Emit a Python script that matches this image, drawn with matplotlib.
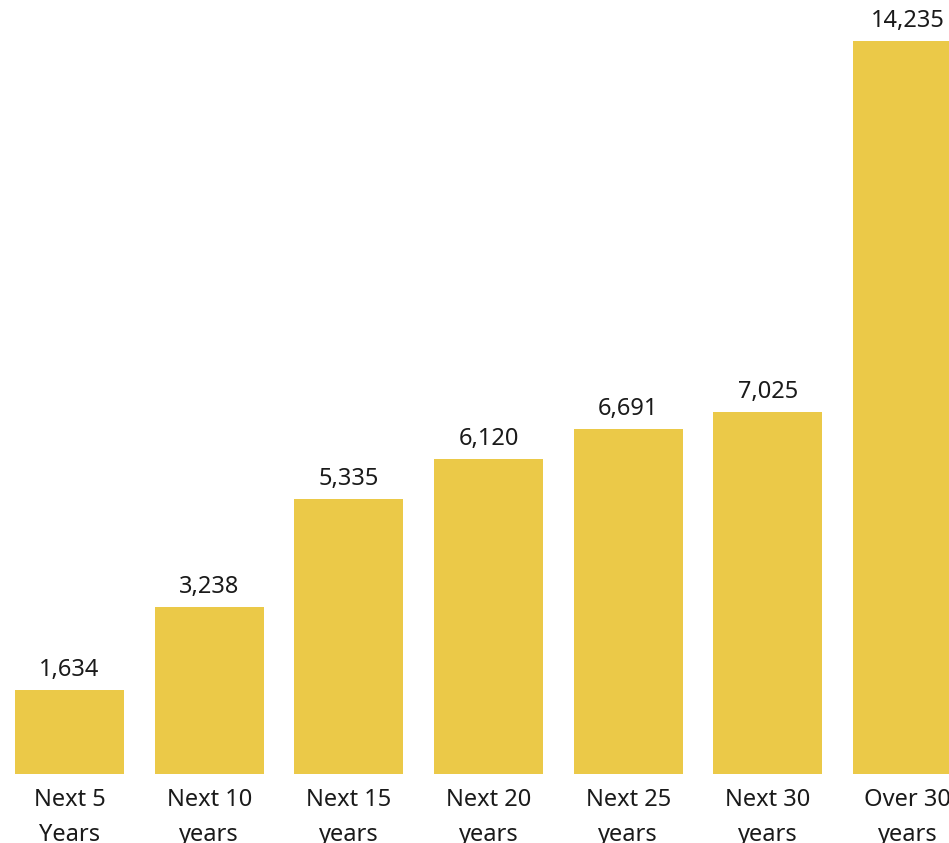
import matplotlib
matplotlib.use('Agg')
import matplotlib.pyplot as plt

categories = ['Next 5\nYears', 'Next 10\nyears', 'Next 15\nyears', 'Next 20\nyears',
              'Next 25\nyears', 'Next 30\nyears', 'Over 30\nyears']
values = [1634, 3238, 5335, 6120, 6691, 7025, 14235]

plt.rcParams['font.family'] = ['Noto Sans', 'DejaVu Sans']

fig = plt.figure(figsize=(9.49, 8.43), dpi=100)
ax = fig.add_axes([0, 1 - 774 / 843, 1, 774 / 843])

x = list(range(len(values)))
ax.bar(x, values, width=0.78, color='#EBC948')

for xi, v in zip(x, values):
    ax.annotate(f'{v:,}', (xi, v), xytext=(0, 6), textcoords='offset points',
                ha='center', va='bottom', fontsize=17, color='#1a1a1a')

ax.set_xlim(-0.4976, 6.297)
ax.set_ylim(0, 14235 * 774 / 733)
ax.set_xticks(x)
ax.set_xticklabels(categories, fontsize=17, color='#1a1a1a', linespacing=1.6)
ax.tick_params(axis='x', length=0, pad=10)
ax.set_yticks([])
for s in ax.spines.values():
    s.set_visible(False)

fig.savefig('out.png', dpi=100)
